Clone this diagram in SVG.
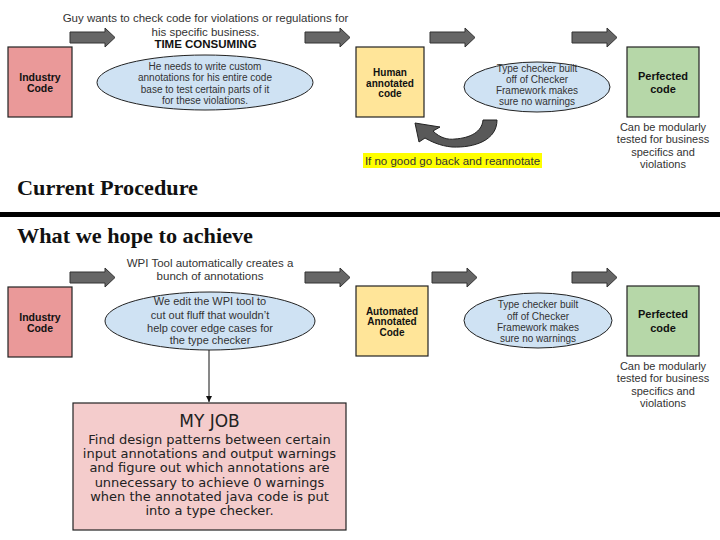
<svg xmlns="http://www.w3.org/2000/svg" width="720" height="540" viewBox="0 0 720 540">
<defs>
<style>
.t{font-family:"Liberation Sans",Arial,sans-serif;fill:#333;text-anchor:middle}
.b{font-family:"Liberation Sans",Arial,sans-serif;font-weight:bold;fill:#111;text-anchor:middle}
.h{font-family:"Liberation Serif","Times New Roman",serif;font-weight:bold;fill:#111;font-size:21px}
.box{stroke:#222;stroke-width:1.2}
.ell{fill:#cfe2f3;stroke:#222;stroke-width:1}
.blk{fill:#666;stroke:#333;stroke-width:1}
.j{font-family:"DejaVu Sans","Liberation Sans",sans-serif;fill:#222;text-anchor:middle;font-size:13px}
</style>
<path id="arr" d="M0 4 H35 V0 L45 9.5 L35 19 V15 H0 Z"/>
<marker id="ah" markerWidth="8" markerHeight="8" refX="6" refY="3" orient="auto" markerUnits="userSpaceOnUse">
<path d="M0 0 L6 3 L0 6 Z" fill="#111"/>
</marker>
</defs>
<rect width="720" height="540" fill="#fff"/>

<g id="connectors">
<use href="#arr" class="blk" x="70" y="28"/>
<use href="#arr" class="blk" x="305" y="28"/>
<use href="#arr" class="blk" x="430" y="28"/>
<use href="#arr" class="blk" x="572" y="28"/>
<use href="#arr" class="blk" x="70" y="268"/>
<use href="#arr" class="blk" x="305" y="268"/>
<use href="#arr" class="blk" x="432" y="268"/>
<use href="#arr" class="blk" x="572" y="268"/>
<path id="loop-back" d="M497 120 C497 140 475 148 452 147 C440 146 430 141 425 138 L419 142 L415 123 L440 127 L433 131 C440 138 448 140 455 139 C470 138 482 132 483 120 Z" fill="#595959" stroke="#222" stroke-width="1"/>
<line x1="209" y1="350" x2="209" y2="402" stroke="#111" stroke-width="1" marker-end="url(#ah)"/>
</g>

<g id="top-caption">
<text class="t" font-size="11.5" x="205.5" y="22">Guy wants to check code for violations or regulations for</text>
<text class="t" font-size="11.5" x="205.5" y="35.5">his specific business.</text>
<text class="b" font-size="11.5" x="205.5" y="47.5">TIME CONSUMING</text>
</g>

<g id="industry-code-1">
<rect class="box" x="8" y="47" width="64" height="70" fill="#ea9999"/>
<text class="b" font-size="10.5" x="40" y="80.5">Industry</text>
<text class="b" font-size="10.5" x="40" y="91.5">Code</text>
</g>

<g id="ellipse-custom">
<ellipse class="ell" cx="205" cy="82.5" rx="108" ry="27.5"/>
<text class="t" font-size="10" x="205" y="69.5">He needs to write custom</text>
<text class="t" font-size="10" x="205" y="81">annotations for his entire code</text>
<text class="t" font-size="10" x="205" y="92.5">base to test certain parts of it</text>
<text class="t" font-size="10" x="205" y="103.5">for these violations.</text>
</g>

<g id="human-annotated">
<rect class="box" x="356" y="47" width="68" height="70" fill="#ffe599"/>
<text class="b" font-size="10" x="390" y="75.5">Human</text>
<text class="b" font-size="10" x="390" y="86.5">annotated</text>
<text class="b" font-size="10" x="390" y="97">code</text>
</g>

<g id="type-checker-1">
<ellipse class="ell" cx="537" cy="87" rx="73" ry="25"/>
<text class="t" font-size="10" x="537" y="71.5">Type checker built</text>
<text class="t" font-size="10" x="537" y="83">off of Checker</text>
<text class="t" font-size="10" x="537" y="94">Framework makes</text>
<text class="t" font-size="10" x="537" y="104.5">sure no warnings</text>
</g>

<g id="perfected-1">
<rect class="box" x="627" y="47" width="72" height="70" fill="#b6d7a8"/>
<text class="b" font-size="11" x="663" y="80">Perfected</text>
<text class="b" font-size="11" x="663" y="93">code</text>
<text class="t" font-size="11" x="663" y="131">Can be modularly</text>
<text class="t" font-size="11" x="663" y="143">tested for business</text>
<text class="t" font-size="11" x="663" y="155.5">specifics and</text>
<text class="t" font-size="11" x="663" y="168">violations</text>
</g>

<g id="reannotate-note">
<rect x="363" y="153" width="179" height="15" fill="#ffff00"/>
<text class="t" font-size="11.5" x="452.5" y="164.5">If no good go back and reannotate</text>
</g>

<text class="h" x="17" y="195" textLength="181" lengthAdjust="spacingAndGlyphs">Current Procedure</text>
<rect x="0" y="212" width="720" height="5" fill="#000"/>
<text class="h" x="17" y="243" textLength="236" lengthAdjust="spacingAndGlyphs">What we hope to achieve</text>

<g id="wpi-caption">
<text class="t" font-size="11.5" x="210" y="267">WPI Tool automatically creates a</text>
<text class="t" font-size="11.5" x="210" y="280">bunch of annotations</text>
</g>

<g id="industry-code-2">
<rect class="box" x="8" y="287" width="64" height="70" fill="#ea9999"/>
<text class="b" font-size="10.5" x="40" y="320.5">Industry</text>
<text class="b" font-size="10.5" x="40" y="331.5">Code</text>
</g>

<g id="ellipse-wpi">
<ellipse class="ell" cx="210" cy="321" rx="105" ry="29"/>
<text class="t" font-size="11" x="210" y="305">We edit the WPI tool to</text>
<text class="t" font-size="11" x="210" y="318.5">cut out fluff that wouldn’t</text>
<text class="t" font-size="11" x="210" y="331.5">help cover edge cases for</text>
<text class="t" font-size="11" x="210" y="344">the type checker</text>
</g>

<g id="automated-annotated">
<rect class="box" x="356" y="286" width="72" height="70" fill="#ffe599"/>
<text class="b" font-size="10" x="392" y="314.5">Automated</text>
<text class="b" font-size="10" x="392" y="325">Annotated</text>
<text class="b" font-size="10" x="392" y="335.5">Code</text>
</g>

<g id="type-checker-2">
<ellipse class="ell" cx="538" cy="320.5" rx="74" ry="27.5"/>
<text class="t" font-size="10" x="538" y="307.5">Type checker built</text>
<text class="t" font-size="10" x="538" y="319.5">off of Checker</text>
<text class="t" font-size="10" x="538" y="330.5">Framework makes</text>
<text class="t" font-size="10" x="538" y="341.5">sure no warnings</text>
</g>

<g id="perfected-2">
<rect class="box" x="627" y="286" width="72" height="70" fill="#b6d7a8"/>
<text class="b" font-size="11" x="663" y="318">Perfected</text>
<text class="b" font-size="11" x="663" y="332">code</text>
<text class="t" font-size="11" x="663" y="370">Can be modularly</text>
<text class="t" font-size="11" x="663" y="382">tested for business</text>
<text class="t" font-size="11" x="663" y="394.5">specifics and</text>
<text class="t" font-size="11" x="663" y="407">violations</text>
</g>

<g id="my-job">
<rect class="box" x="73" y="403" width="273" height="127" fill="#f4cccc"/>
<text class="j" style="font-size:17px" x="209.5" y="426.5">MY JOB</text>
<text class="j" x="209.5" y="444">Find design patterns between certain</text>
<text class="j" x="209.5" y="458.2">input annotations and output warnings</text>
<text class="j" x="209.5" y="472.4">and figure out which annotations are</text>
<text class="j" x="209.5" y="486.6">unnecessary to achieve 0 warnings</text>
<text class="j" x="209.5" y="500.8">when the annotated java code is put</text>
<text class="j" x="209.5" y="515">into a type checker.</text>
</g>
</svg>
